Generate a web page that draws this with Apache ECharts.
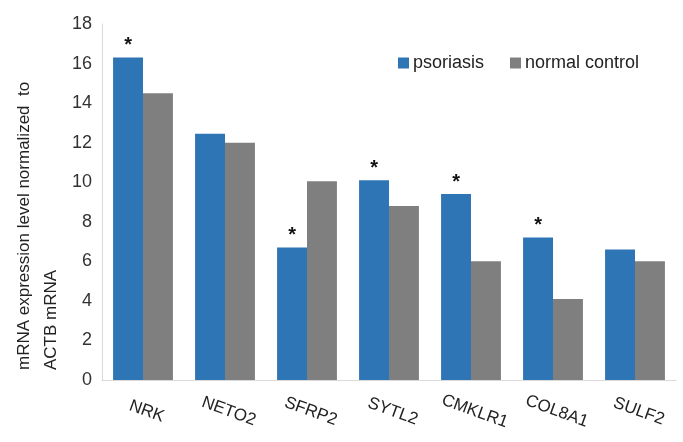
<!DOCTYPE html>
<html>
<head>
<meta charset="utf-8">
<script src="https://cdn.jsdelivr.net/npm/echarts@6/dist/echarts.min.js"></script>
<style>html,body{margin:0;padding:0;background:#fff}#c{width:683px;height:442px}</style>
</head>
<body>
<div id="c"></div>
<script>
var categories = ['NRK', 'NETO2', 'SFRP2', 'SYTL2', 'CMKLR1', 'COL8A1', 'SULF2'];
var psoriasis = [16.3, 12.45, 6.7, 10.1, 9.4, 7.2, 6.6];
var normalControl = [14.5, 12.0, 10.05, 8.8, 6.0, 4.1, 6.0];
var significance = ['*', '', '*', '*', '*', '*', ''];
var yTicks = [0, 2, 4, 6, 8, 10, 12, 14, 16, 18];

var chart = echarts.init(document.getElementById('c'));
chart.setOption({
  animation: false,
  textStyle: { fontFamily: 'Liberation Sans, Arial, sans-serif' },
  grid: { left: 102, right: 7, top: 24, bottom: 62, containLabel: false },
  legend: {
    left: 393, top: 49,
    itemWidth: 11, itemHeight: 11, itemGap: 26,
    icon: 'rect',
    textStyle: { fontSize: 18, color: '#222', padding: [0, 0, 0, -1] },
    data: ['psoriasis', 'normal control']
  },
  xAxis: {
    type: 'category',
    data: categories,
    axisLine: { lineStyle: { color: '#d9d9d9', width: 1 } },
    axisTick: { show: false },
    axisLabel: { rotate: -20, align: 'center', verticalAlign: 'middle', margin: 30, fontSize: 17, color: '#222', padding: [0, 0, 0, 8] }
  },
  yAxis: {
    type: 'value',
    min: yTicks[0], max: yTicks[yTicks.length - 1], interval: 2,
    axisLine: { show: true, lineStyle: { color: '#d9d9d9', width: 1 } },
    axisTick: { show: false },
    splitLine: { show: false },
    axisLabel: { fontSize: 18, color: '#333', margin: 10 }
  },
  graphic: [
    { type: 'text', x: 24, y: 370, rotation: Math.PI / 2,
      style: { text: 'mRNA expression level normalized  to', font: '17px Liberation Sans, Arial, sans-serif', fill: '#222', align: 'left', verticalAlign: 'middle' } },
    { type: 'text', x: 51, y: 370, rotation: Math.PI / 2,
      style: { text: 'ACTB mRNA', font: '17px Liberation Sans, Arial, sans-serif', fill: '#222', align: 'left', verticalAlign: 'middle' } }
  ],
  series: [
    {
      name: 'psoriasis', type: 'bar', data: psoriasis,
      barGap: '0%', barCategoryGap: '27%',
      itemStyle: { color: '#2E75B6' },
      label: {
        show: true, position: 'top', distance: 2,
        formatter: function (p) { return significance[p.dataIndex]; },
        fontSize: 20, fontWeight: 'bold', color: '#111'
      }
    },
    {
      name: 'normal control', type: 'bar', data: normalControl,
      barGap: '0%', barCategoryGap: '27%',
      itemStyle: { color: '#7F7F7F' }
    }
  ]
});
</script>
</body>
</html>
